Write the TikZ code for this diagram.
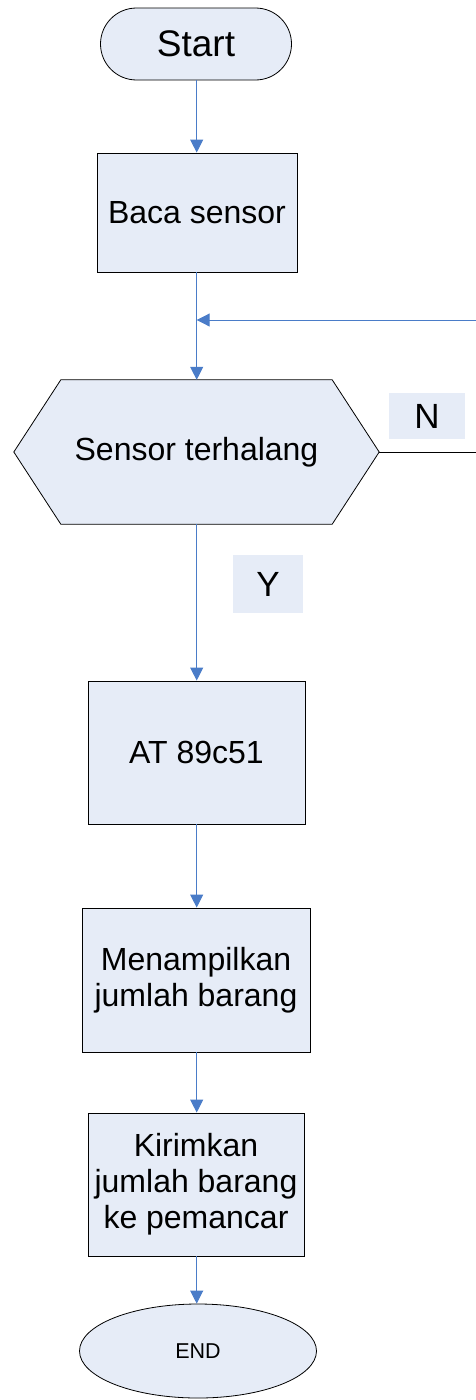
\documentclass[tikz,border=0pt]{standalone}
\usepackage{fontspec}
\setmainfont{Liberation Sans}
\usetikzlibrary{arrows.meta,shapes.geometric}
\definecolor{boxfill}{RGB}{230,236,247}
\definecolor{arrowblue}{RGB}{74,124,200}
\tikzset{
  box/.style={draw=black, line width=0.9pt, fill=boxfill, rectangle, inner sep=0pt, align=center,
    font=\fontsize{32}{36}\selectfont},
  term/.style={draw=black, line width=0.8pt, fill=boxfill, rounded corners=36pt, inner sep=0pt,
    minimum width=191pt, minimum height=72pt, font=\fontsize{37}{40}\selectfont},
  lab/.style={fill=boxfill, inner sep=0pt, font=\fontsize{35}{40}\selectfont},
  flow/.style={draw=arrowblue, line width=1pt, -{Triangle[width=13pt,length=13pt]}},
  plain/.style={draw=black, line width=1pt},
}
\begin{document}
\begin{tikzpicture}[x=1pt,y=-1pt]
\useasboundingbox (0,0) rectangle (476,1400);
\node[term] (start) at (196,44) {Start};
\node[box, minimum width=200pt, minimum height=119pt] (baca) at (197,212.5) {Baca sensor};
\node[rectangle, inner sep=0pt, minimum width=365pt, minimum height=144pt] (hex) at (196.5,452) {};
\draw[line width=0.8pt, fill=boxfill] (hex.west) -- ([xshift=47pt]hex.north west) -- ([xshift=-47pt]hex.north east) -- (hex.east) -- ([xshift=-47pt]hex.south east) -- ([xshift=47pt]hex.south west) -- cycle;
\node[font=\fontsize{32}{36}\selectfont, inner sep=0pt] (hextext) at (hex.center) {Sensor terhalang};
\node[lab, minimum width=76pt, minimum height=46pt] (n) at (427,416) {N};
\node[lab, minimum width=70pt, minimum height=58pt] (y) at (268,584) {Y};
\node[box, minimum width=217pt, minimum height=143pt] (at) at (196.5,752.5) {AT 89c51};
\node[box, minimum width=228pt, minimum height=144pt] (men) at (196,980) {Menampilkan\\jumlah barang};
\node[box, minimum width=216pt, minimum height=143pt] (kir) at (196,1184.5) {Kirimkan\\jumlah barang\\ke pemancar};
\node[ellipse, draw=black, line width=0.8pt, fill=boxfill, inner sep=0pt, minimum width=237pt, minimum height=94pt, font=\fontsize{21.5}{24}\selectfont] (end) at (198,1351) {END};
\coordinate (join) at (196.7,320);
\coordinate (rdown) at (476,452);
\coordinate (rup) at (476,320);
\path[flow] (start.south -| join) -- (baca.north -| join);
\path[flow] (baca.south -| join) -- (hex.north -| join);
\path[plain] (hex.east) -- (rdown);
\path[flow] (rup) -- (join);
\path[flow] (hex.south -| join) -- (at.north -| join);
\path[flow] (at.south -| join) -- (men.north -| join);
\path[flow] (men.south -| join) -- (kir.north -| join);
\path[flow] (kir.south -| join) -- (end.north -| join);
\end{tikzpicture}
\end{document}
